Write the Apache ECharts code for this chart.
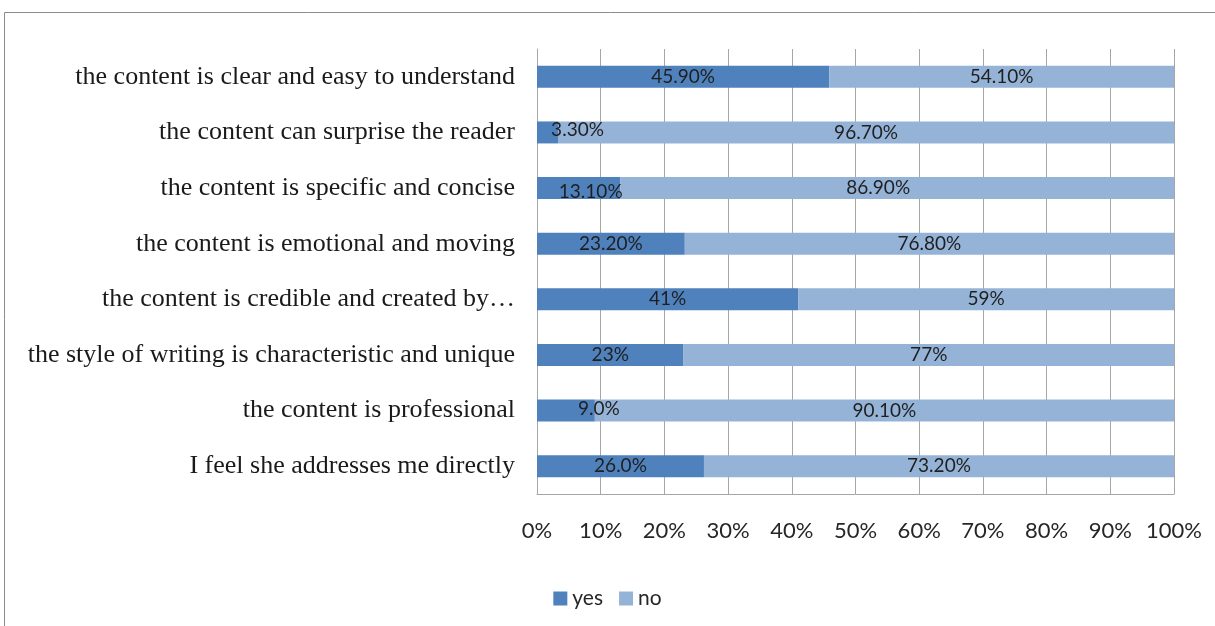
<!DOCTYPE html>
<html>
<head>
<meta charset="utf-8">
<script src="https://cdn.jsdelivr.net/npm/echarts@6/dist/echarts.min.js"></script>
<style>
  html, body { margin: 0; padding: 0; background: #ffffff; }
  #chart { width: 1215px; height: 626px; }
</style>
</head>
<body>
<div id="chart"></div>
<script>
// Survey statements, top to bottom
const categories = [
  'the content is clear and easy to understand',
  'the content can surprise the reader',
  'the content is specific and concise',
  'the content is emotional and moving',
  'the content is credible and created by\u2026',
  'the style of writing is characteristic and unique',
  'the content is professional',
  'I feel she addresses me directly'
];

// Answer percentages per statement
const yesValues = [45.9, 3.3, 13.1, 23.2, 41, 23, 9.0, 26.0];
const noValues  = [54.1, 96.7, 86.9, 76.8, 59, 77, 90.1, 73.2];

// Data label texts as printed on the bars
const yesLabels = ['45.90%', '3.30%', '13.10%', '23.20%', '41%', '23%', '9.0%', '26.0%'];
const noLabels  = ['54.10%', '96.70%', '86.90%', '76.80%', '59%', '77%', '90.10%', '73.20%'];

const xTicks = [0, 10, 20, 30, 40, 50, 60, 70, 80, 90, 100];

// 100% stacked: each row is scaled to its own total
const totals = yesValues.map((v, i) => v + noValues[i]);
const share = (arr) => arr.map((v, i) => v / totals[i] * 100);

// Hand-placed label nudges for the narrow segments
const yesNudge = { 1: [30, -3], 2: [12, 4], 6: [33, -2] };
const noNudge = { 2: [-19, 0] };

function buildData(values, labels, nudge) {
  return share(values).map((v, i) => {
    const item = { value: v, labelText: labels[i] };
    if (nudge[i]) item.label = { offset: nudge[i] };
    return item;
  });
}

const labelStyle = {
  show: true,
  position: 'inside',
  color: '#1f1f1f',
  fontFamily: 'Lato',
  fontSize: 19,
  formatter: (p) => p.data.labelText
};

const chart = echarts.init(document.getElementById('chart'), null, { renderer: 'canvas' });

chart.setOption({
  backgroundColor: '#ffffff',
  animation: false,
  graphic: [{
    type: 'rect',
    shape: { x: 4.5, y: 12.5, width: 1300, height: 700 },
    style: { fill: 'none', stroke: '#8c8c8c', lineWidth: 1 },
    silent: true
  }],
  legend: {
    data: ['yes', 'no'],
    bottom: 12,
    left: 'center',
    itemWidth: 14,
    itemHeight: 14,
    itemGap: 16,
    icon: 'rect',
    textStyle: { fontFamily: 'Lato', fontSize: 21, color: '#262626' }
  },
  grid: { left: 537, right: 41, top: 49, bottom: 132, containLabel: false },
  xAxis: {
    type: 'value',
    min: xTicks[0],
    max: xTicks[xTicks.length - 1],
    interval: xTicks[1] - xTicks[0],
    axisLine: { show: true, lineStyle: { color: '#a6a6a6' } },
    axisTick: { show: false },
    axisLabel: {
      formatter: '{value}%',
      fontFamily: 'Lato',
      fontSize: 22,
      color: '#262626',
      margin: 26
    },
    splitLine: { show: true, lineStyle: { color: '#a6a6a6', width: 1 } }
  },
  yAxis: {
    type: 'category',
    data: categories,
    inverse: true,
    axisLine: { show: true, lineStyle: { color: '#a6a6a6' } },
    axisTick: { show: false },
    axisLabel: {
      fontFamily: 'Liberation Serif',
      fontSize: 26,
      color: '#1a1a1a',
      margin: 22
    }
  },
  series: [
    {
      name: 'yes',
      type: 'bar',
      stack: 'total',
      barWidth: 22,
      itemStyle: { color: '#4f81bd' },
      label: labelStyle,
      data: buildData(yesValues, yesLabels, yesNudge)
    },
    {
      name: 'no',
      type: 'bar',
      stack: 'total',
      barWidth: 22,
      itemStyle: { color: '#95b3d7' },
      label: labelStyle,
      data: buildData(noValues, noLabels, noNudge)
    }
  ]
});
</script>
</body>
</html>
